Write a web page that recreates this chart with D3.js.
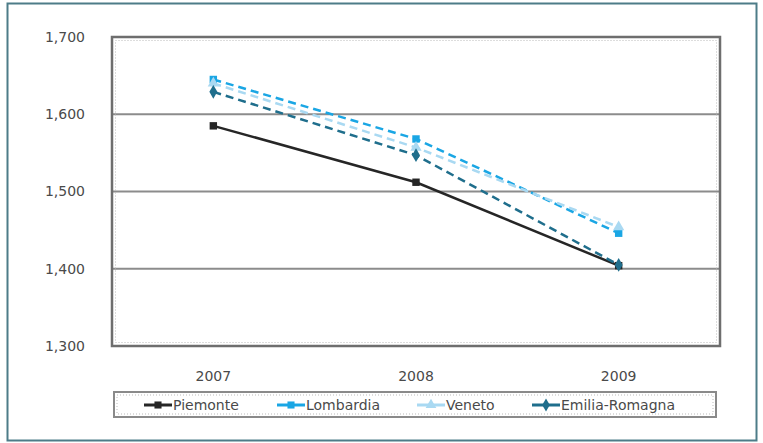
<!DOCTYPE html>
<html><head><meta charset="utf-8">
<script src="https://cdn.jsdelivr.net/npm/d3@7"></script>
<style>body{margin:0;background:#fff}svg{display:block}text{font-family:"DejaVu Sans",sans-serif}</style>
</head><body><svg id="c" width="763" height="443"></svg>
<script>
const years = ["2007","2008","2009"];
const yTicks = [1300,1400,1500,1600,1700];
const seriesNames = ["Piemonte","Lombardia","Veneto","Emilia-Romagna"];
const piemonte = [1585,1512,1404];
const lombardia = [1645,1568,1446];
const veneto = [1640,1557,1454];
const emilia = [1629,1547,1405];
const colors = ["#262626","#1aa6e4","#a9d9f2","#1f6e8c"];
const dashes = [null,"8,5","8,5","8,5"];
const markers = [d3.symbolSquare,d3.symbolSquare,d3.symbolTriangle,d3.symbolDiamond];

const data = [piemonte,lombardia,veneto,emilia];
const svg = d3.select("#c");
svg.append("rect").attr("x",7.5).attr("y",3.5).attr("width",749).attr("height",437)
  .attr("fill","#fff").attr("stroke","#4d7c88").attr("stroke-width",2);

const L=112,R=720,T=37,B=346;
const x = d3.scaleBand().domain(years).range([L,R]);
const y = d3.scaleLinear().domain([1300,1700]).range([B,T]);

// gridlines
svg.append("g").selectAll("line").data(yTicks.slice(1,-1)).join("line")
  .attr("x1",L).attr("x2",R).attr("y1",d=>y(d)).attr("y2",d=>y(d))
  .attr("stroke","#8c8c8c").attr("stroke-width",1.8);

// plot frame
svg.append("rect").attr("x",L).attr("y",T).attr("width",R-L).attr("height",B-T)
  .attr("fill","none").attr("stroke","#6e6e6e").attr("stroke-width",2.5);
svg.append("rect").attr("x",L+3.5).attr("y",T+3.5).attr("width",R-L-7).attr("height",B-T-7)
  .attr("fill","none").attr("stroke","#bbb").attr("stroke-width",1).attr("stroke-dasharray","1,2");

// y axis
const ya = svg.append("g").attr("transform",`translate(${L},0)`)
  .call(d3.axisLeft(y).tickValues(yTicks).tickFormat(d3.format(",")).tickSize(0).tickPadding(27));
ya.select(".domain").remove();
ya.selectAll("text").attr("font-size",14).attr("fill","#4a4a4a");

// x axis
const xa = svg.append("g").attr("transform",`translate(0,${B})`)
  .call(d3.axisBottom(x).tickSize(0).tickPadding(25));
xa.select(".domain").remove();
xa.selectAll("text").attr("font-size",14).attr("fill","#4a4a4a");

const line = d3.line().x((d,i)=>x(years[i])+x.bandwidth()/2).y(d=>y(d));
data.forEach((s,k)=>{
  const g = svg.append("g");
  g.append("path").attr("d",line(s)).attr("fill","none").attr("stroke",colors[k])
    .attr("stroke-width",2.5).attr("stroke-dasharray",dashes[k]);
  g.selectAll("path.m").data(s).join("path").attr("class","m")
    .attr("transform",(d,i)=>`translate(${x(years[i])+x.bandwidth()/2},${y(d)})`)
    .attr("d",d3.symbol(markers[k],55)).attr("fill",colors[k]);
});

// legend
const lg = svg.append("g");
lg.append("rect").attr("x",114).attr("y",392).attr("width",602).attr("height",25)
  .attr("fill","#fff").attr("stroke","#8a8a8a").attr("stroke-width",2);
lg.append("rect").attr("x",117).attr("y",395).attr("width",596).attr("height",19)
  .attr("fill","none").attr("stroke","#bbb").attr("stroke-width",1).attr("stroke-dasharray","1,2");
const lx = [144,277,417,532];
seriesNames.forEach((n,k)=>{
  const g = lg.append("g").attr("transform",`translate(${lx[k]},405)`);
  g.append("line").attr("x1",0).attr("x2",28).attr("stroke",colors[k]).attr("stroke-width",3);
  g.append("path").attr("transform","translate(14,0)").attr("d",d3.symbol(markers[k],50)).attr("fill",colors[k]);
  g.append("text").attr("x",29).attr("y",5).attr("font-size",14).attr("fill","#4a4a4a").text(n);
});
</script></body></html>
